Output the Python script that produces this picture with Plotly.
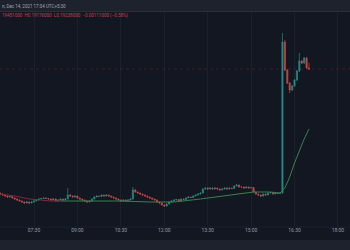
import plotly.graph_objects as go
import pandas as pd

# ---------------- data ----------------
start_time = "2021-12-14 06:20"
n_candles = 129

opens = [
0.0985,0.0979,0.0973,0.0967,0.0961,0.0964,0.0955,0.0949,0.0943,0.0937,
0.0931,0.0925,0.0931,0.0925,0.0931,0.0937,0.0943,0.0949,0.0952,0.0955,
0.0952,0.0949,0.0943,0.0949,0.0937,0.0943,0.0949,0.0943,0.0949,0.0973,
0.0967,0.0961,0.0967,0.0955,0.0949,0.0943,0.0937,0.0931,0.0937,0.0949,
0.0961,0.0967,0.0964,0.0973,0.0967,0.0973,0.0967,0.0961,0.0955,0.0949,
0.0943,0.0937,0.0943,0.0937,0.0943,0.0949,0.1003,0.0991,0.0985,0.0979,
0.0973,0.0967,0.0961,0.0955,0.0949,0.0943,0.0931,0.0925,0.0913,0.0907,
0.0919,0.0931,0.0937,0.0943,0.0946,0.0937,0.0949,0.0946,0.0955,0.0961,
0.0958,0.0967,0.0973,0.0979,0.0985,0.1009,0.1015,0.1009,0.1015,0.1009,
0.1015,0.1009,0.1003,0.1009,0.1015,0.1009,0.1015,0.1012,0.1027,0.1033,
0.1021,0.1021,0.1015,0.1021,0.1015,0.1018,0.0991,0.0979,0.0973,0.0967,
0.0979,0.0973,0.0985,0.0988,0.0979,0.0985,0.0982,0.0985,0.1891,0.1723,
0.1645,0.1603,0.1627,0.1663,0.1717,0.1777,0.1765,0.1795,0.1735]

highs = [
0.0988,0.0982,0.0976,0.0970,0.0967,0.0967,0.0958,0.0952,0.0946,0.0940,
0.0934,0.0936,0.0933,0.0934,0.0940,0.0946,0.0952,0.0956,0.0958,0.0958,
0.0955,0.0951,0.0953,0.0952,0.0946,0.0952,0.0951,0.0952,0.1015,0.0979,
0.0970,0.0970,0.0969,0.0957,0.0951,0.0945,0.0939,0.0940,0.0952,0.0964,
0.0970,0.0969,0.0976,0.0975,0.0977,0.0975,0.0969,0.0963,0.0957,0.0951,
0.0945,0.0946,0.0945,0.0946,0.0952,0.1021,0.1009,0.0993,0.0987,0.0981,
0.0975,0.0969,0.0963,0.0957,0.0951,0.0945,0.0933,0.0927,0.0915,0.0922,
0.0934,0.0940,0.0946,0.0949,0.0948,0.0952,0.0951,0.0958,0.0964,0.0963,
0.0970,0.0976,0.0982,0.0988,0.1013,0.1018,0.1017,0.1018,0.1017,0.1018,
0.1017,0.1011,0.1012,0.1018,0.1017,0.1018,0.1017,0.1031,0.1037,0.1035,
0.1024,0.1023,0.1024,0.1023,0.1021,0.1020,0.0993,0.0981,0.0975,0.0982,
0.0981,0.0988,0.0991,0.0990,0.0988,0.0987,0.0988,0.1945,0.1903,0.1729,
0.1651,0.1633,0.1669,0.1723,0.1825,0.1783,0.1801,0.1801,0.1765]

lows = [
0.0976,0.0970,0.0964,0.0958,0.0959,0.0952,0.0946,0.0940,0.0934,0.0928,
0.0922,0.0923,0.0921,0.0923,0.0929,0.0935,0.0941,0.0947,0.0950,0.0949,
0.0946,0.0940,0.0941,0.0934,0.0935,0.0941,0.0940,0.0941,0.0947,0.0964,
0.0958,0.0959,0.0952,0.0946,0.0940,0.0934,0.0928,0.0929,0.0935,0.0947,
0.0959,0.0961,0.0962,0.0964,0.0965,0.0964,0.0958,0.0952,0.0946,0.0940,
0.0934,0.0935,0.0934,0.0935,0.0941,0.0946,0.0988,0.0982,0.0976,0.0970,
0.0964,0.0958,0.0952,0.0946,0.0940,0.0928,0.0922,0.0910,0.0901,0.0904,
0.0917,0.0929,0.0935,0.0941,0.0934,0.0935,0.0943,0.0944,0.0953,0.0955,
0.0956,0.0965,0.0971,0.0977,0.0983,0.1007,0.1006,0.1007,0.1006,0.1007,
0.1006,0.1000,0.1001,0.1007,0.1006,0.1007,0.1009,0.1010,0.1025,0.1018,
0.1018,0.1012,0.1013,0.1012,0.1013,0.0988,0.0976,0.0970,0.0961,0.0964,
0.0970,0.0971,0.0983,0.0976,0.0977,0.0979,0.0980,0.0982,0.1717,0.1639,
0.1585,0.1597,0.1621,0.1657,0.1711,0.1759,0.1759,0.1729,0.1723]

closes = [
0.0979,0.0973,0.0967,0.0961,0.0964,0.0955,0.0949,0.0943,0.0937,0.0931,
0.0925,0.0931,0.0925,0.0931,0.0937,0.0943,0.0949,0.0952,0.0955,0.0952,
0.0949,0.0943,0.0949,0.0937,0.0943,0.0949,0.0943,0.0949,0.0973,0.0967,
0.0961,0.0967,0.0955,0.0949,0.0943,0.0937,0.0931,0.0937,0.0949,0.0961,
0.0967,0.0964,0.0973,0.0967,0.0973,0.0967,0.0961,0.0955,0.0949,0.0943,
0.0937,0.0943,0.0937,0.0943,0.0949,0.1003,0.0991,0.0985,0.0979,0.0973,
0.0967,0.0961,0.0955,0.0949,0.0943,0.0931,0.0925,0.0913,0.0907,0.0919,
0.0931,0.0937,0.0943,0.0946,0.0937,0.0949,0.0946,0.0955,0.0961,0.0958,
0.0967,0.0973,0.0979,0.0985,0.1009,0.1015,0.1009,0.1015,0.1009,0.1015,
0.1009,0.1003,0.1009,0.1015,0.1009,0.1015,0.1012,0.1027,0.1033,0.1021,
0.1021,0.1015,0.1021,0.1015,0.1018,0.0991,0.0979,0.0973,0.0967,0.0979,
0.0973,0.0985,0.0988,0.0979,0.0985,0.0982,0.0985,0.1891,0.1723,0.1645,
0.1603,0.1627,0.1663,0.1717,0.1777,0.1765,0.1795,0.1735,0.1729]

ma_red_times = ["2021-12-14 06:20", "2021-12-14 06:50", "2021-12-14 07:20",
                "2021-12-14 08:05", "2021-12-14 08:25"]
ma_red_values = [0.0979, 0.0967, 0.0949, 0.0937, 0.0937]

ma_green_times = ["2021-12-14 08:25", "2021-12-14 09:25", "2021-12-14 10:30",
                  "2021-12-14 11:30", "2021-12-14 12:20", "2021-12-14 13:15",
                  "2021-12-14 14:05", "2021-12-14 15:05", "2021-12-14 15:40",
                  "2021-12-14 16:00", "2021-12-14 16:10", "2021-12-14 16:20",
                  "2021-12-14 16:30", "2021-12-14 16:40", "2021-12-14 16:50",
                  "2021-12-14 17:00"]
ma_green_values = [0.0937, 0.0937, 0.0937, 0.0931, 0.0931, 0.0949, 0.0967,
                   0.0991, 0.0991, 0.0985, 0.1015, 0.1081, 0.1165, 0.1243,
                   0.1309, 0.1369]

tick_times = ["2021-12-14 07:30", "2021-12-14 09:00", "2021-12-14 10:30",
              "2021-12-14 12:00", "2021-12-14 13:30", "2021-12-14 15:00",
              "2021-12-14 16:30", "2021-12-14 18:00"]
tick_labels = ["07:30", "09:00", "10:30", "12:00", "13:30", "15:00", "16:30", "18:00"]

header_text = "n, Dec 14, 2021 17:04 UTC+5:30"
ohlc_text = "19451000  H0.19176000  L0.19238000  −0.00111000 (−0.58%)"
last_price = 0.1729

# ---------------- figure ----------------
times = pd.date_range(start_time, periods=n_candles, freq="5min")

UP = "#26a69a"
DOWN = "#ef5350"
BG = "#131722"
BAND = "#1e222d"

fig = go.Figure()
fig.add_trace(go.Candlestick(
    x=times, open=opens, high=highs, low=lows, close=closes,
    increasing=dict(line=dict(color=UP, width=0.7), fillcolor=UP),
    decreasing=dict(line=dict(color=DOWN, width=0.7), fillcolor=DOWN),
    opacity=0.8, hoverinfo="skip", showlegend=False))
fig.add_trace(go.Scatter(x=ma_red_times, y=ma_red_values, mode="lines",
                         line=dict(color="#7a2c38", width=1),
                         hoverinfo="skip", showlegend=False))
fig.add_trace(go.Scatter(x=ma_green_times, y=ma_green_values, mode="lines",
                         line=dict(color="#3a7f4e", width=1),
                         hoverinfo="skip", showlegend=False))

plot_h = 250 - 12 - 24
fig.update_layout(
    width=350, height=250,
    margin=dict(l=0, r=0, t=12, b=24),
    paper_bgcolor=BG, plot_bgcolor=BG,
    xaxis=dict(type="date", range=["2021-12-14 06:19:30", "2021-12-14 18:25"],
               tickvals=tick_times, ticktext=tick_labels,
               tickfont=dict(family="Roboto", size=5, color="#9598a1"),
               showgrid=True, gridcolor="#1c202b", gridwidth=1,
               zeroline=False, showline=False, ticks="",
               rangeslider=dict(visible=False), fixedrange=True),
    yaxis=dict(range=[0.0787, 0.2071], visible=False, showgrid=False,
               fixedrange=True),
    shapes=[
        dict(type="rect", xref="paper", yref="paper", x0=0, x1=1,
             y0=1 + 0.5 / plot_h, y1=1 + 12 / plot_h, fillcolor=BAND,
             line=dict(width=0), layer="below"),
        dict(type="line", xref="paper", yref="paper", x0=0, x1=1,
             y0=1 + 0.5 / plot_h, y1=1 + 0.5 / plot_h,
             line=dict(color="#2a2e39", width=1)),
        dict(type="rect", xref="paper", yref="paper", x0=0, x1=1,
             y0=-24 / plot_h, y1=-14 / plot_h, fillcolor=BAND,
             line=dict(width=0)),
        dict(type="line", xref="paper", yref="paper", x0=0, x1=1,
             y0=-1 / plot_h, y1=-1 / plot_h,
             line=dict(color="#1d212c", width=1)),
        dict(type="line", xref="paper", yref="y", x0=0, x1=1,
             y0=last_price, y1=last_price,
             line=dict(color="rgba(239,83,80,0.18)", width=1, dash="dot")),
    ],
    annotations=[
        dict(text=header_text, xref="paper", yref="paper", x=0,
             y=1 + 6 / plot_h, xanchor="left", yanchor="middle",
             showarrow=False, font=dict(family="Roboto", size=4.5, color="#a3a6af")),
        dict(text=ohlc_text, xref="paper", yref="paper", x=0,
             y=1 - 3.5 / plot_h, xanchor="left", yanchor="middle",
             showarrow=False, font=dict(family="Roboto", size=4.5, color="#c4424c")),
    ],
)

fig.write_html("out.html")
